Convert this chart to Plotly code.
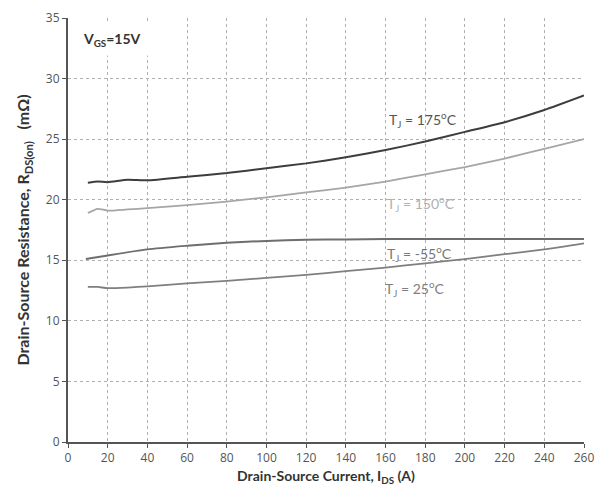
import plotly.graph_objects as go

x_175 = [10, 15, 20, 30, 40, 60, 80, 100, 120, 140, 160, 180, 200, 220, 240, 260]
y_175 = [21.4, 21.5, 21.45, 21.65, 21.6, 21.9, 22.2, 22.6, 23.0, 23.5, 24.1, 24.8, 25.6, 26.4, 27.4, 28.6]

x_150 = [10, 15, 20, 30, 40, 60, 80, 100, 120, 140, 160, 180, 200, 220, 240, 260]
y_150 = [18.9, 19.25, 19.1, 19.2, 19.3, 19.55, 19.85, 20.2, 20.6, 21.0, 21.5, 22.1, 22.7, 23.4, 24.2, 25.0]

x_m55 = [9, 20, 40, 60, 80, 100, 120, 140, 160, 180, 200, 220, 240, 260]
y_m55 = [15.1, 15.4, 15.9, 16.2, 16.45, 16.6, 16.7, 16.72, 16.75, 16.75, 16.75, 16.75, 16.75, 16.75]

x_25 = [10, 15, 20, 30, 40, 60, 80, 100, 120, 140, 160, 180, 200, 220, 240, 260]
y_25 = [12.8, 12.8, 12.7, 12.75, 12.85, 13.1, 13.3, 13.55, 13.8, 14.1, 14.4, 14.75, 15.1, 15.5, 15.9, 16.4]

series = [
    (x_175, y_175, "#3d3d3d", 2.0),
    (x_150, y_150, "#a6a6a6", 1.8),
    (x_m55, y_m55, "#6e6e6e", 2.0),
    (x_25, y_25, "#7f7f7f", 1.8),
]

labels = [
    (179, 26.6, "T<sub>J</sub> = 175<sup>o</sup>C", "#555555"),
    (178, 19.7, "T<sub>J</sub> = 150<sup>o</sup>C", "#b0b0b0"),
    (177, 15.6, "T<sub>J</sub> = -55<sup>o</sup>C", "#777777"),
    (175, 12.7, "T<sub>J</sub> = 25<sup>o</sup>C", "#808080"),
]

fig = go.Figure()
for xs, ys, c, w in series:
    fig.add_trace(go.Scatter(x=xs, y=ys, mode="lines", line=dict(color=c, width=w, shape="spline", smoothing=0.6), showlegend=False))

for lx, ly, t, c in labels:
    fig.add_annotation(x=lx, y=ly, text=t, showarrow=False, font=dict(family="Lato, Open Sans, sans-serif", size=14, color=c))

fig.add_shape(type="rect", x0=1, x1=44, y0=31.9, y1=34.7, fillcolor="white", line=dict(width=0), layer="above")
fig.add_annotation(x=6.5, y=33.2, xanchor="left", text="<b>V<sub>GS</sub>=15V</b>", showarrow=False,
                   font=dict(family="Lato, Open Sans, sans-serif", size=14, color="#333333"))

fig.update_layout(
    width=603, height=495,
    margin=dict(l=68, r=11, t=9, b=53),
    plot_bgcolor="white", paper_bgcolor="white",
    font=dict(family="Open Sans, Liberation Sans, sans-serif", size=12, color="#555555"),
)
fig.update_xaxes(range=[0, 260], tick0=0, dtick=20, showline=True, linecolor="#555555", linewidth=2,
                 ticks="outside", ticklen=4, tickcolor="#555555", showgrid=True, gridcolor="#b0b0b0",
                 griddash="dot", gridwidth=1, zeroline=False,
                 title=dict(text="<b>Drain-Source Current, I<sub>DS</sub> (A)</b>", standoff=6,
                            font=dict(family="Lato, Open Sans, sans-serif", size=14, color="#333333")))
fig.update_yaxes(range=[0, 35], tick0=0, dtick=5, showline=True, linecolor="#555555", linewidth=2,
                 ticks="outside", ticklen=4, tickcolor="#555555", showgrid=True, gridcolor="#b0b0b0",
                 griddash="dot", gridwidth=1, zeroline=False,
                 title=dict(text="<b>Drain-Source Resistance, R<sub>DS(on)</sub>   (m\u03a9)</b>", standoff=12,
                            font=dict(family="Lato, Open Sans, sans-serif", size=16, color="#333333")))

fig.write_html("out.html")
